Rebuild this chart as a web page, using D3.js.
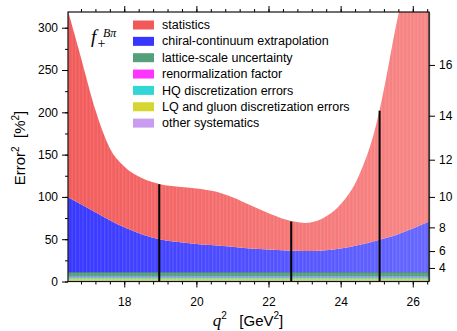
<!DOCTYPE html>
<html>
<head>
<meta charset="utf-8">
<script src="https://cdn.jsdelivr.net/npm/d3@7/dist/d3.min.js"></script>
<style>
  body { margin: 0; background: #fff; }
  text { font-family: "Liberation Sans", Arial, Helvetica, sans-serif; fill: #000; }
  .serif { font-family: "Liberation Serif", "Times New Roman", serif; font-style: italic; }
</style>
</head>
<body>
<svg id="chart" width="457" height="331"></svg>
<script>
// q^2 grid (GeV^2) and error^2 budget (%^2)
const q2 =         [16.44, 16.8, 17.2, 17.6, 18, 18.5, 19, 19.5, 20, 20.5, 21, 21.5, 22, 22.5, 23, 23.5, 24, 24.5, 25, 25.25, 25.5, 25.75, 26, 26.45];
const statistics = [220.5, 173.3, 120.8, 85.1, 72, 66.3, 65.2, 65.2, 65.6, 63.7, 58.5, 51, 42.7, 36.2, 33.2, 37.9, 52.1, 81.2, 139.4, 186.5, 240.5, 288.5, 357.2, 449];
const chiral =     [88.9, 80.6, 71.2, 61.9, 53.4, 45.1, 39.2, 36.2, 33.8, 32.3, 30.4, 28.4, 27.3, 26.1, 25.5, 26.1, 28.5, 32.6, 38, 40.9, 43.9, 47.9, 52.2, 60.4];
const latticeScale=[4.5, 4.5, 4.5, 4.5, 4.5, 4.5, 4.5, 4.5, 4.5, 4.5, 4.5, 4.5, 4.5, 4.5, 4.5, 4.5, 4.5, 4.5, 4.5, 4.5, 4.5, 4.5, 4.5, 4.5];
const renorm =     [0.9, 0.9, 0.9, 0.9, 0.9, 0.9, 0.9, 0.9, 0.9, 0.9, 0.9, 0.9, 0.9, 0.9, 0.9, 0.9, 0.9, 0.9, 0.9, 0.9, 0.9, 0.9, 0.9, 0.9];
const hqDisc =     [1.9, 1.9, 1.9, 1.9, 1.9, 1.9, 1.9, 1.9, 1.9, 1.9, 1.9, 1.9, 1.9, 1.9, 1.9, 1.9, 1.9, 1.9, 1.9, 1.9, 1.9, 1.9, 1.9, 1.9];
const lqDisc =     [2.0, 2.0, 2.0, 2.0, 2.0, 2.0, 2.0, 2.0, 2.0, 2.0, 2.0, 2.0, 2.0, 2.0, 2.0, 2.0, 2.0, 2.0, 2.0, 2.0, 2.0, 2.0, 2.0, 2.0];
const otherSys =   [1.3, 1.3, 1.3, 1.3, 1.3, 1.3, 1.3, 1.3, 1.3, 1.3, 1.3, 1.3, 1.3, 1.3, 1.3, 1.3, 1.3, 1.3, 1.3, 1.3, 1.3, 1.3, 1.3, 1.3];

// vertical marker lines (q^2 position, height in %^2)
const markerQ2 = [18.97, 22.63, 25.08];
const markerTop = [115, 71, 202];

const leftTicks = [0, 50, 100, 150, 200, 250, 300];
const rightTicks = [4, 6, 8, 10, 12, 14, 16];
const bottomTicks = [18, 20, 22, 24, 26];

// legend order (top to bottom); stacking goes the other way
const series = [
  { key: "stat",    label: "statistics",                    values: statistics,   color: "#f25a5a", color2: "#f78686" },
  { key: "chiral",  label: "chiral-continuum extrapolation", values: chiral,       color: "#3636ff", color2: "#6666ff" },
  { key: "lattice", label: "lattice-scale uncertainty",     values: latticeScale, color: "#54a07a", color2: "#54a07a" },
  { key: "renorm",  label: "renormalization factor",        values: renorm,       color: "#ff33ff", color2: "#ff33ff" },
  { key: "hq",      label: "HQ discretization errors",      values: hqDisc,       color: "#33d6d6", color2: "#33d6d6" },
  { key: "lq",      label: "LQ and gluon discretization errors", values: lqDisc,  color: "#d6d633", color2: "#d6d633" },
  { key: "other",   label: "other systematics",             values: otherSys,     color: "#c99cf0", color2: "#c99cf0" }
];

const svg = d3.select("#chart");
const pL = 68, pR = 429, pT = 12, pB = 281.5;

const x = d3.scaleLinear().domain([16.44, 26.45]).range([pL, pR]);
const y = d3.scaleLinear().domain([0, 318.6]).range([pB, pT]);

const rows = q2.map((q, i) => {
  const r = { q };
  series.forEach(s => r[s.key] = s.values[i]);
  return r;
});
const stackKeys = series.map(s => s.key).reverse();
const stacked = d3.stack().keys(stackKeys)(rows);

const defs = svg.append("defs");
defs.append("clipPath").attr("id", "plotclip")
  .append("rect").attr("x", pL).attr("y", pT).attr("width", pR - pL).attr("height", pB - pT);

series.forEach(s => {
  const g = defs.append("linearGradient").attr("id", "grad-" + s.key)
    .attr("gradientUnits", "userSpaceOnUse")
    .attr("x1", pL).attr("x2", pR).attr("y1", 0).attr("y2", 0);
  g.append("stop").attr("offset", 0).attr("stop-color", s.color);
  g.append("stop").attr("offset", 1).attr("stop-color", s.color2);
});

// faint vertical striping like the original rendering
const pat = defs.append("pattern").attr("id", "stripes")
  .attr("patternUnits", "userSpaceOnUse").attr("width", 3.6).attr("height", 10)
  .attr("x", pL);
pat.append("rect").attr("x", 0).attr("y", 0).attr("width", 1.2).attr("height", 10)
  .attr("fill", "#fff").attr("opacity", 0.13);

const area = d3.area()
  .curve(d3.curveMonotoneX)
  .x(d => x(d.data.q))
  .y0(d => y(d[0]))
  .y1(d => y(d[1]));

const plot = svg.append("g").attr("clip-path", "url(#plotclip)");
plot.selectAll("path.layer")
  .data(stacked)
  .join("path")
  .attr("class", "layer")
  .attr("d", area)
  .attr("fill", d => "url(#grad-" + d.key + ")");

const totalArea = d3.area()
  .curve(d3.curveMonotoneX)
  .x(d => x(d.data.q))
  .y0(y(0))
  .y1(d => y(d[1]));
plot.append("path")
  .attr("d", totalArea(stacked[stacked.length - 1]))
  .attr("fill", "url(#stripes)");

// thin edge on top of the lattice-scale band
plot.append("path")
  .datum(stacked.find(s => s.key === "lattice"))
  .attr("d", d3.line().curve(d3.curveMonotoneX).x(d => x(d.data.q)).y(d => y(d[1])))
  .attr("fill", "none")
  .attr("stroke", "#2f6f55")
  .attr("stroke-width", 0.5);

// black vertical markers
plot.selectAll("line.marker")
  .data(markerQ2)
  .join("line")
  .attr("class", "marker")
  .attr("x1", d => x(d)).attr("x2", d => x(d))
  .attr("y1", y(0)).attr("y2", (d, i) => y(markerTop[i]))
  .attr("stroke", "#000").attr("stroke-width", 2);

// frame
svg.append("rect")
  .attr("x", pL).attr("y", pT).attr("width", pR - pL).attr("height", pB - pT)
  .attr("fill", "none").attr("stroke", "#111").attr("stroke-width", 1.2);
svg.append("line")
  .attr("x1", pR + 0.6).attr("x2", pR + 0.6).attr("y1", pT).attr("y2", pB)
  .attr("stroke", "#333").attr("stroke-width", 1);

// axes
const axisStyle = g => {
  g.select(".domain").remove();
  g.selectAll(".tick line").attr("stroke", "#000").attr("stroke-width", 1);
  g.selectAll(".tick text").style("font-size", "12px");
};

svg.append("g").attr("transform", `translate(${pL},0)`)
  .call(d3.axisLeft(y).tickValues(d3.range(0, 301, 25)).tickSize(3).tickFormat(""))
  .call(axisStyle);
svg.append("g").attr("transform", `translate(${pL},0)`)
  .call(d3.axisLeft(y).tickValues(leftTicks).tickSize(6).tickPadding(4))
  .call(axisStyle);

svg.append("g").attr("transform", `translate(${pR},0)`)
  .call(d3.axisRight(y).tickValues(rightTicks.map(v => v * v)).tickSize(6).tickPadding(4)
    .tickFormat((d, i) => rightTicks[i]))
  .call(axisStyle);

const minorX = d3.range(16.8, 26.45, 0.4);
svg.append("g").attr("transform", `translate(0,${pB})`)
  .call(d3.axisBottom(x).tickValues(minorX).tickSize(3).tickFormat(""))
  .call(axisStyle);
svg.append("g").attr("transform", `translate(0,${pB})`)
  .call(d3.axisBottom(x).tickValues(bottomTicks).tickSize(6).tickPadding(10))
  .call(axisStyle);
svg.append("g").attr("transform", `translate(0,${pT})`)
  .call(d3.axisTop(x).tickValues(minorX).tickSize(3).tickFormat(""))
  .call(axisStyle);
svg.append("g").attr("transform", `translate(0,${pT})`)
  .call(d3.axisTop(x).tickValues(bottomTicks).tickSize(6).tickFormat(""))
  .call(axisStyle);

// axis titles
const yl = svg.append("text")
  .attr("transform", "translate(25,148) rotate(-90)")
  .attr("text-anchor", "middle")
  .style("font-size", "15px");
yl.append("tspan").text("Error");
yl.append("tspan").attr("dy", -6).style("font-size", "10px").text("2");
yl.append("tspan").attr("dy", 6).text("\u00a0\u00a0[%");
yl.append("tspan").attr("dy", -6).style("font-size", "10px").text("2");
yl.append("tspan").attr("dy", 6).text("]");

const xl = svg.append("text")
  .attr("x", 248).attr("y", 326)
  .attr("text-anchor", "middle")
  .style("font-size", "15px");
xl.append("tspan").attr("class", "serif").style("font-size", "17px").text("q");
xl.append("tspan").attr("dy", -7).style("font-size", "10px").text("2");
xl.append("tspan").attr("dy", 7).text("\u00a0\u00a0\u00a0[GeV");
xl.append("tspan").attr("dy", -7).style("font-size", "10px").text("2");
xl.append("tspan").attr("dy", 7).text("]");

// f_+^{B pi} label
svg.append("text").attr("class", "serif").attr("x", 91).attr("y", 43).style("font-size", "19px").text("f");
svg.append("text").attr("class", "serif").attr("x", 103).attr("y", 37).style("font-size", "12px").text("B\u03c0");
svg.append("text").attr("x", 97.5).attr("y", 48).style("font-size", "14px")
  .style("font-family", "'Liberation Serif', serif").text("+");

// legend
const legend = svg.append("g");
const lg = legend.selectAll("g").data(series).join("g")
  .attr("transform", (d, i) => `translate(133,${20.5 + i * 16.35})`);
lg.append("rect").attr("width", 21).attr("height", 9).attr("fill", d => d.color);
lg.append("text").attr("x", 29).attr("y", 8.6).style("font-size", "12.5px").text(d => d.label);
</script>
</body>
</html>
